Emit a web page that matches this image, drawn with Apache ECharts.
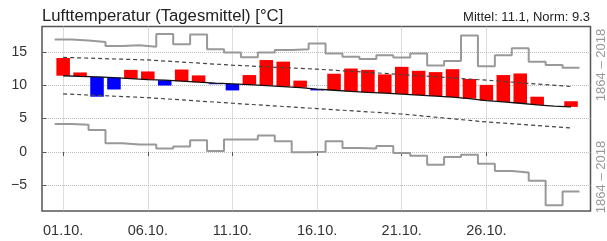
<!DOCTYPE html>
<html>
<head>
<meta charset="utf-8">
<script src="https://cdn.jsdelivr.net/npm/echarts@6/dist/echarts.min.js"></script>
<style>
  html, body { margin: 0; padding: 0; background: #fff; }
  #chart { width: 607px; height: 241px; }
</style>
</head>
<body>
<div id="chart"></div>
<script>
// Tage im Oktober
var days = [1, 2, 3, 4, 5, 6, 7, 8, 9, 10, 11, 12, 13, 14, 15, 16, 17, 18, 19, 20,
    21, 22, 23, 24, 25, 26, 27, 28, 29, 30, 31];

// Tagesmittel
var meanTemp = [14.07, 11.91, 8.28, 9.36, 12.3, 12.06, 9.95, 12.35, 11.47, 10.15,
    9.22, 11.52, 13.77, 13.53, 10.69, 9.22, 11.72, 12.5, 12.3, 11.62,
    12.75, 12.16, 11.96, 12.4, 10.93, 10.05, 11.52, 11.76, 8.28, 6.88, 7.6];

// Norm
var normTemp = [11.42, 11.32, 11.25, 11.13, 10.98, 10.83, 10.75, 10.6, 10.45, 10.32,
    10.2, 10.08, 9.95, 9.8, 9.65, 9.42, 9.25, 9.08, 8.93, 8.82,
    8.68, 8.53, 8.38, 8.22, 8.0, 7.7, 7.5, 7.3, 7.05, 6.88, 6.76];

// Rekorde 1864 - 2018
var recordMax = [16.84, 16.68, 16.48, 15.88, 15.98, 15.76, 17.65, 16.13, 17.6, 15.39,
    14.9, 14.17, 14.9, 15.29, 15.39, 16.23, 14.75, 14.26, 13.92, 14.5,
    14.14, 14.75, 12.94, 13.63, 17.45, 12.85, 14.5, 15.55, 13.53, 13.04, 12.63];
var recordMin = [4.19, 4.09, 3.28, 1.31, 1.11, 1.11, 0.51, 0.81, 1.77, 0.15,
    1.87, 1.87, 2.47, 1.62, -0.05, 0.05, 1.62, 0.61, 0.51, 0.91,
    -0.15, -0.56, -1.92, -0.76, -0.4, -1.77, -2.83, -3.08, -4.29, -7.98, -5.91];

// Streuband (gestrichelt)
var bandDays = [1, 6, 11, 16, 21, 26, 31];
var bandUpper = [14.17, 13.78, 13.0, 12.4, 11.6, 10.75, 9.8];
var bandLower = [8.7, 8.14, 7.3, 6.5, 5.69, 4.5, 3.6];

// Achsen
var xTickDays = [1, 6, 11, 16, 21, 26];
var xTickLabels = ['01.10.', '06.10.', '11.10.', '16.10.', '21.10.', '26.10.'];
var yTicks = [-5, 0, 5, 10, 15];

var titleText = 'Lufttemperatur (Tagesmittel) [°C]';
var infoText = 'Mittel: 11.1, Norm: 9.3';
var periodText = '1864 – 2018';

var FONT = '"Liberation Sans", Arial, sans-serif';

function stepData(values) {
    var out = [];
    for (var i = 0; i < days.length; i++) {
        out.push([days[i] - 0.5, values[i]]);
        out.push([days[i] + 0.5, values[i]]);
    }
    return out;
}

function pairs(xs, ys) {
    return xs.map(function (x, i) { return [x, ys[i]]; });
}

var chart = echarts.init(document.getElementById('chart'), null, {renderer: 'canvas'});

var option = {
    animation: false,
    grid: {
        left: 42, right: 16.5, top: 26.5, bottom: 30,
        show: true, borderColor: '#555', borderWidth: 1.5, backgroundColor: 'transparent'
    },
    xAxis: {
        type: 'value', min: -0.25, max: 32.15,
        axisLine: {show: false},
        axisTick: {show: true, length: 4, customValues: xTickDays, lineStyle: {color: '#555'}},
        axisLabel: {
            customValues: xTickDays, margin: 12, color: '#333', fontSize: 14.5, fontFamily: FONT,
            formatter: function (v) { return xTickLabels[xTickDays.indexOf(v)]; }
        },
        splitLine: {show: true, lineStyle: {color: '#bbb', type: 'dotted', width: 1}}
    },
    yAxis: {
        type: 'value', min: -8.83, max: 18.79,
        axisLine: {show: false},
        axisTick: {show: true, length: 4, customValues: yTicks, lineStyle: {color: '#555'}},
        axisLabel: {
            customValues: yTicks, margin: 15, color: '#333', fontSize: 14, fontFamily: FONT,
            formatter: function (v) { return v < 0 ? '\u2212' + Math.abs(v) : String(v); }
        },
        splitLine: {show: true, lineStyle: {color: '#bbb', type: 'dotted', width: 1}}
    },
    graphic: [
        {type: 'text', x: 42, y: 16.5, style: {text: titleText, font: '16.7px ' + FONT, fill: '#222', verticalAlign: 'middle'}},
        {type: 'text', x: 590, y: 17.5, style: {text: infoText, font: '13px ' + FONT, fill: '#222', align: 'right', verticalAlign: 'middle'}},
        {type: 'text', x: 601, y: 65, rotation: Math.PI / 2, style: {text: periodText, font: '13px ' + FONT, fill: '#999', align: 'center', verticalAlign: 'middle'}},
        {type: 'text', x: 601, y: 177, rotation: Math.PI / 2, style: {text: periodText, font: '13px ' + FONT, fill: '#999', align: 'center', verticalAlign: 'middle'}}
    ],
    series: [
        {
            name: 'max', type: 'line', data: stepData(recordMax), showSymbol: false,
            lineStyle: {color: '#999', width: 2}, z: 2
        },
        {
            name: 'min', type: 'line', data: stepData(recordMin), showSymbol: false,
            lineStyle: {color: '#999', width: 2}, z: 2
        },
        {
            name: 'tage', type: 'custom', z: 3,
            data: days.map(function (d, i) { return [d, normTemp[i], meanTemp[i]]; }),
            encode: {x: 0, y: [1, 2]},
            renderItem: function (params, api) {
                var d = api.value(0), n = api.value(1), m = api.value(2);
                var p1 = api.coord([d, n]);
                var p2 = api.coord([d, m]);
                var w = api.size([0.8, 0])[0];
                return {
                    type: 'rect',
                    shape: {x: p1[0] - w / 2, y: Math.min(p1[1], p2[1]), width: w, height: Math.abs(p1[1] - p2[1])},
                    style: {fill: m >= n ? '#ff0000' : '#0000ff'}
                };
            }
        },
        {
            name: 'norm', type: 'line', data: pairs(days, normTemp), showSymbol: false,
            lineStyle: {color: '#111', width: 1.3}, z: 4
        },
        {
            name: 'oben', type: 'line', data: pairs(bandDays, bandUpper), showSymbol: false,
            lineStyle: {color: '#444', width: 1.2, type: [4, 3]}, z: 5
        },
        {
            name: 'unten', type: 'line', data: pairs(bandDays, bandLower), showSymbol: false,
            lineStyle: {color: '#444', width: 1.2, type: [4, 3]}, z: 5
        }
    ]
};

chart.setOption(option);
</script>
</body>
</html>
